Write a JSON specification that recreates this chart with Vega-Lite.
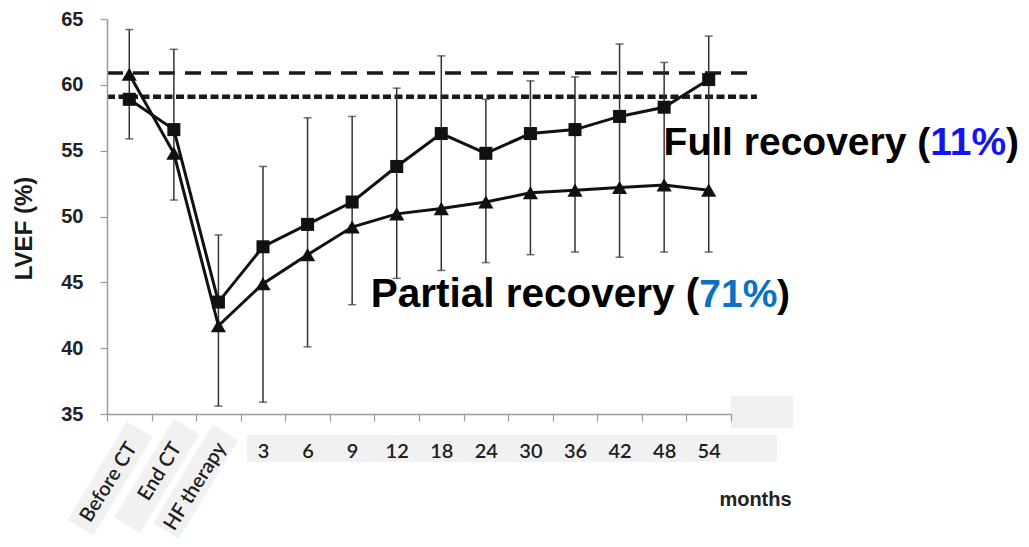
{
  "$schema": "https://vega.github.io/schema/vega-lite/v6.json",
  "width": 624,
  "height": 395,
  "autosize": {"type": "none"},
  "padding": {"left": 107, "top": 19, "right": 298, "bottom": 133},
  "background": "white",
  "config": {"view": {"stroke": null}, "font": "Liberation Sans"},
  "datasets": {
    "lvef": [
      {"visit": "Before CT", "group": "Full recovery", "lvef": 58.9},
      {"visit": "End CT", "group": "Full recovery", "lvef": 56.6},
      {"visit": "HF therapy", "group": "Full recovery", "lvef": 43.5},
      {"visit": "3", "group": "Full recovery", "lvef": 47.7},
      {"visit": "6", "group": "Full recovery", "lvef": 49.4},
      {"visit": "9", "group": "Full recovery", "lvef": 51.1},
      {"visit": "12", "group": "Full recovery", "lvef": 53.8},
      {"visit": "18", "group": "Full recovery", "lvef": 56.3},
      {"visit": "24", "group": "Full recovery", "lvef": 54.8},
      {"visit": "30", "group": "Full recovery", "lvef": 56.3},
      {"visit": "36", "group": "Full recovery", "lvef": 56.6},
      {"visit": "42", "group": "Full recovery", "lvef": 57.6},
      {"visit": "48", "group": "Full recovery", "lvef": 58.3},
      {"visit": "54", "group": "Full recovery", "lvef": 60.4},
      {"visit": "Before CT", "group": "Partial recovery", "lvef": 60.8},
      {"visit": "End CT", "group": "Partial recovery", "lvef": 54.8},
      {"visit": "HF therapy", "group": "Partial recovery", "lvef": 41.7},
      {"visit": "3", "group": "Partial recovery", "lvef": 44.9},
      {"visit": "6", "group": "Partial recovery", "lvef": 47.1},
      {"visit": "9", "group": "Partial recovery", "lvef": 49.2},
      {"visit": "12", "group": "Partial recovery", "lvef": 50.2},
      {"visit": "18", "group": "Partial recovery", "lvef": 50.6},
      {"visit": "24", "group": "Partial recovery", "lvef": 51.1},
      {"visit": "30", "group": "Partial recovery", "lvef": 51.8},
      {"visit": "36", "group": "Partial recovery", "lvef": 52.0},
      {"visit": "42", "group": "Partial recovery", "lvef": 52.2},
      {"visit": "48", "group": "Partial recovery", "lvef": 52.4},
      {"visit": "54", "group": "Partial recovery", "lvef": 52.0}
    ],
    "spread": [
      {"visit": "Before CT", "lo": 55.9, "hi": 64.2},
      {"visit": "End CT", "lo": 51.25, "hi": 62.7},
      {"visit": "HF therapy", "lo": 35.6, "hi": 48.6},
      {"visit": "3", "lo": 35.9, "hi": 53.8},
      {"visit": "6", "lo": 40.1, "hi": 57.5},
      {"visit": "9", "lo": 43.3, "hi": 57.6},
      {"visit": "12", "lo": 45.3, "hi": 59.75},
      {"visit": "18", "lo": 45.9, "hi": 62.2},
      {"visit": "24", "lo": 46.5, "hi": 58.9},
      {"visit": "30", "lo": 47.1, "hi": 60.3},
      {"visit": "36", "lo": 47.3, "hi": 60.6},
      {"visit": "42", "lo": 46.9, "hi": 63.1},
      {"visit": "48", "lo": 47.3, "hi": 61.7},
      {"visit": "54", "lo": 47.3, "hi": 63.7}
    ],
    "stages": [
      {"visit": "Before CT"},
      {"visit": "End CT"},
      {"visit": "HF therapy"}
    ],
    "refs": [
      {"line": "baseline", "lvef": 60.9, "from": 0, "to": 14.43},
      {"line": "normal", "lvef": 59.1, "from": 0, "to": 14.58}
    ],
    "backdrops": [
      {"x0": 3.14, "x1": 15.03, "y0": 33.41, "y1": 31.36},
      {"x0": 14.0, "x1": 15.39, "y0": 36.37, "y1": 33.94}
    ],
    "tilted": [
      {"label": "Before CT", "x": 0.07, "y": 30.1},
      {"label": "End CT", "x": 1.12, "y": 30.3},
      {"label": "HF therapy", "x": 1.99, "y": 29.85}
    ],
    "notes": [
      {"note": "full", "part": "lead", "piece": "Full recovery (", "pos": 18.47, "lvef": 54.67, "tone": "text"},
      {"note": "full", "part": "tail", "piece": "11%", "pos": 18.47, "lvef": 54.67, "tone": "full"},
      {"note": "full", "part": "tail", "piece": ")", "pos": 20.17, "lvef": 54.67, "tone": "text"},
      {"note": "partial", "part": "lead", "piece": "Partial recovery (", "pos": 13.29, "lvef": 43.13, "tone": "text"},
      {"note": "partial", "part": "tail", "piece": "71%", "pos": 13.29, "lvef": 43.13, "tone": "partial"},
      {"note": "partial", "part": "tail", "piece": ")", "pos": 15.03, "lvef": 43.13, "tone": "text"}
    ]
  },
  "layer": [
    {
      "layer": [
        {
          "data": {"name": "backdrops"},
          "mark": {"type": "rect", "color": "#f1f1f1"},
          "encoding": {
            "x": {
              "field": "x0", "type": "quantitative", "title": null,
              "scale": {"domain": [0, 14], "nice": false, "zero": false},
              "axis": {
                "orient": "bottom", "values": [0, 1, 2, 3, 4, 5, 6, 7, 8, 9, 10, 11, 12, 13, 14],
                "labels": false, "grid": false, "tickSize": 7, "tickColor": "#9a9a9a", "tickWidth": 1.2,
                "domainColor": "#9a9a9a", "domainWidth": 1.5, "zindex": 1
              }
            },
            "x2": {"field": "x1"},
            "y": {
              "field": "y0", "type": "quantitative", "title": "LVEF (%)",
              "scale": {"domain": [35, 65], "nice": false, "zero": false},
              "axis": {
                "values": [35, 40, 45, 50, 55, 60, 65], "grid": false,
                "tickSize": 7, "tickColor": "#9a9a9a", "tickWidth": 1.2,
                "domainColor": "#9a9a9a", "domainWidth": 1.5,
                "labelFont": "Liberation Sans", "labelFontWeight": "bold", "labelFontSize": 20,
                "labelColor": "#222222", "labelPadding": 17,
                "titleFont": "Liberation Sans", "titleFontWeight": "bold", "titleFontSize": 24,
                "titleColor": "#1a1a1a", "titleX": -83, "titleY": 209, "titleAngle": -90,
                "titleAlign": "center", "titleBaseline": "middle", "zindex": 1
              }
            },
            "y2": {"field": "y1"}
          }
        },
        {
          "data": {"name": "tilted"},
          "mark": {
            "type": "point", "shape": "M-1,-0.26L1,-0.26L1,0.26L-1,0.26Z",
            "size": 13225, "angle": -59, "filled": true, "color": "#f1f1f1", "opacity": 1
          },
          "encoding": {
            "x": {"field": "x", "type": "quantitative", "title": null},
            "y": {"field": "y", "type": "quantitative", "title": "LVEF (%)"}
          }
        },
        {
          "data": {"name": "refs"},
          "transform": [{"filter": "datum.line === 'baseline'"}],
          "mark": {"type": "rule", "strokeDash": [16, 10], "strokeWidth": 3.5, "color": "#1a1a1a"},
          "encoding": {
            "x": {"field": "from", "type": "quantitative", "title": null},
            "x2": {"field": "to"},
            "y": {"field": "lvef", "type": "quantitative", "title": "LVEF (%)"}
          }
        },
        {
          "data": {"name": "refs"},
          "transform": [{"filter": "datum.line === 'normal'"}],
          "mark": {"type": "rule", "strokeDash": [8, 3.5], "strokeWidth": 4.5, "color": "#1a1a1a"},
          "encoding": {
            "x": {"field": "from", "type": "quantitative", "title": null},
            "x2": {"field": "to"},
            "y": {"field": "lvef", "type": "quantitative", "title": "LVEF (%)"}
          }
        }
      ]
    },
    {
      "layer": [
        {
          "data": {"name": "spread"},
          "mark": {"type": "rule", "color": "#333333", "strokeWidth": 1.5},
          "encoding": {
            "x": {
              "field": "visit", "type": "nominal", "title": "months",
              "scale": {
                "type": "point", "padding": 0.5,
                "domain": ["Before CT", "End CT", "HF therapy", "3", "6", "9", "12", "18", "24", "30", "36", "42", "48", "54"]
              },
              "axis": {
                "orient": "bottom", "domain": false, "ticks": false, "tickSize": 0,
                "labelPadding": 37, "labelFont": "Lato", "labelFontWeight": 600, "labelFontSize": 20, "labelColor": "#1e1e1e",
                "labelAngle": 0, "labelBaseline": "middle", "labelOverlap": false, "labelBound": false,
                "labelExpr": "indexof(['Before CT','End CT','HF therapy'], datum.value) >= 0 ? '' : datum.label",
                "titleFont": "Liberation Sans", "titleFontWeight": "bold", "titleFontSize": 20,
                "titleColor": "#222222", "titleX": 648, "titleY": 85,
                "titleAlign": "center", "titleBaseline": "middle", "zindex": 1
              }
            },
            "y": {"field": "lo", "type": "quantitative", "title": "LVEF (%)"},
            "y2": {"field": "hi"}
          }
        },
        {
          "data": {"name": "stages"},
          "mark": {"type": "text", "font": "Lato", "fontWeight": 600, "fontSize": 20, "color": "#1e1e1e", "angle": -58, "align": "right", "baseline": "middle", "dx": 6},
          "encoding": {
            "x": {"field": "visit", "type": "nominal", "title": "months"},
            "y": {"datum": 32.3, "type": "quantitative", "title": "LVEF (%)"},
            "text": {"field": "visit"}
          }
        },
        {
          "data": {"name": "spread"},
          "mark": {"type": "tick", "color": "#333333", "size": 8, "thickness": 1.5},
          "encoding": {
            "x": {"field": "visit", "type": "nominal", "title": "months"},
            "y": {"field": "lo", "type": "quantitative", "title": "LVEF (%)"}
          }
        },
        {
          "data": {"name": "spread"},
          "mark": {"type": "tick", "color": "#333333", "size": 8, "thickness": 1.5},
          "encoding": {
            "x": {"field": "visit", "type": "nominal", "title": "months"},
            "y": {"field": "hi", "type": "quantitative", "title": "LVEF (%)"}
          }
        },
        {
          "data": {"name": "lvef"},
          "mark": {"type": "line", "color": "#111111", "strokeWidth": 3},
          "encoding": {
            "x": {"field": "visit", "type": "nominal", "title": "months"},
            "y": {"field": "lvef", "type": "quantitative", "title": "LVEF (%)"},
            "detail": {"field": "group"},
            "order": {"value": null}
          }
        },
        {
          "data": {"name": "lvef"},
          "transform": [{"filter": "datum.group === 'Full recovery'"}],
          "mark": {"type": "point", "shape": "square", "filled": true, "size": 170, "color": "#111111", "opacity": 1},
          "encoding": {
            "x": {"field": "visit", "type": "nominal", "title": "months"},
            "y": {"field": "lvef", "type": "quantitative", "title": "LVEF (%)"}
          }
        },
        {
          "data": {"name": "lvef"},
          "transform": [{"filter": "datum.group === 'Partial recovery'"}],
          "mark": {"type": "point", "shape": "triangle-up", "filled": true, "size": 230, "color": "#111111", "opacity": 1},
          "encoding": {
            "x": {"field": "visit", "type": "nominal", "title": "months"},
            "y": {"field": "lvef", "type": "quantitative", "title": "LVEF (%)"}
          }
        }
      ]
    },
    {
      "layer": [
        {
          "data": {"name": "notes"},
          "transform": [{"filter": "datum.note === 'full' && datum.part === 'lead'"}],
          "mark": {"type": "text", "font": "Liberation Sans", "fontWeight": "bold", "fontSize": 39, "align": "right", "baseline": "alphabetic"},
          "encoding": {
            "x": {"field": "pos", "type": "quantitative", "title": null, "axis": null, "scale": {"domain": [0, 14], "nice": false, "zero": false}},
            "y": {"field": "lvef", "type": "quantitative", "title": "LVEF (%)"},
            "text": {"field": "piece"},
            "color": {"field": "tone", "type": "nominal", "legend": null, "scale": {"domain": ["text", "full", "partial"], "range": ["#000000", "#1515f0", "#0b72c2"]}}
          }
        },
        {
          "data": {"name": "notes"},
          "transform": [{"filter": "datum.note === 'full' && datum.part === 'tail'"}],
          "mark": {"type": "text", "font": "Liberation Sans", "fontWeight": "bold", "fontSize": 39, "align": "left", "baseline": "alphabetic"},
          "encoding": {
            "x": {"field": "pos", "type": "quantitative", "title": null},
            "y": {"field": "lvef", "type": "quantitative", "title": "LVEF (%)"},
            "text": {"field": "piece"},
            "color": {"field": "tone", "type": "nominal", "legend": null, "scale": {"domain": ["text", "full", "partial"], "range": ["#000000", "#1515f0", "#0b72c2"]}}
          }
        },
        {
          "data": {"name": "notes"},
          "transform": [{"filter": "datum.note === 'partial' && datum.part === 'lead'"}],
          "mark": {"type": "text", "font": "Liberation Sans", "fontWeight": "bold", "fontSize": 40.5, "align": "right", "baseline": "alphabetic"},
          "encoding": {
            "x": {"field": "pos", "type": "quantitative", "title": null},
            "y": {"field": "lvef", "type": "quantitative", "title": "LVEF (%)"},
            "text": {"field": "piece"},
            "color": {"field": "tone", "type": "nominal", "legend": null, "scale": {"domain": ["text", "full", "partial"], "range": ["#000000", "#1515f0", "#0b72c2"]}}
          }
        },
        {
          "data": {"name": "notes"},
          "transform": [{"filter": "datum.note === 'partial' && datum.part === 'tail'"}],
          "mark": {"type": "text", "font": "Liberation Sans", "fontWeight": "bold", "fontSize": 39, "align": "left", "baseline": "alphabetic"},
          "encoding": {
            "x": {"field": "pos", "type": "quantitative", "title": null},
            "y": {"field": "lvef", "type": "quantitative", "title": "LVEF (%)"},
            "text": {"field": "piece"},
            "color": {"field": "tone", "type": "nominal", "legend": null, "scale": {"domain": ["text", "full", "partial"], "range": ["#000000", "#1515f0", "#0b72c2"]}}
          }
        }
      ]
    }
  ],
  "resolve": {"scale": {"x": "independent"}, "axis": {"x": "independent"}}
}
